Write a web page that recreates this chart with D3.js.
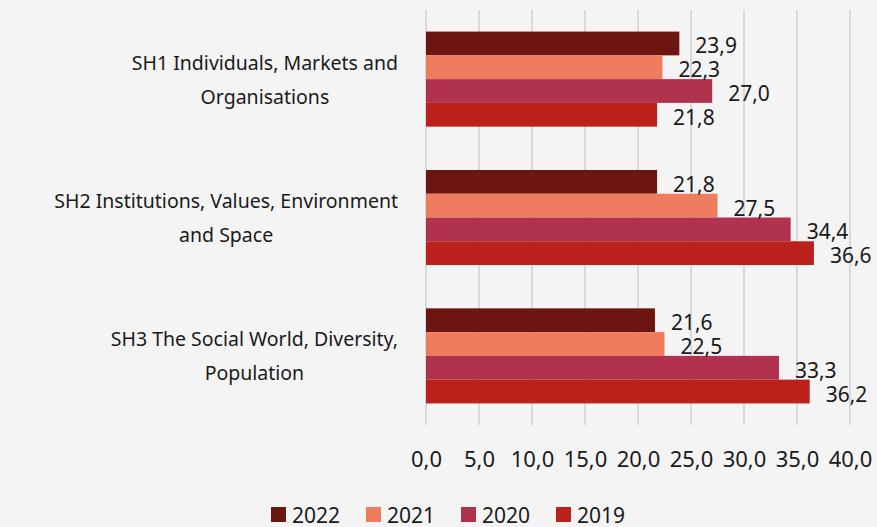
<!DOCTYPE html>
<html><head><meta charset="utf-8">
<script src="https://cdn.jsdelivr.net/npm/d3@7"></script>
<style>
html,body{margin:0;padding:0;background:#f4f4f4;}
svg{display:block;}
text{font-family:"Noto Sans",sans-serif;fill:#1a1a1a;}
</style></head>
<body><svg id="chart" width="877" height="527"></svg>
<script>
const categories = [
  "SH1 Individuals, Markets and Organisations",
  "SH2 Institutions, Values, Environment and Space",
  "SH3 The Social World, Diversity, Population"
];
const seriesNames = ["2022", "2021", "2020", "2019"];
const values2022 = [23.9, 21.8, 21.6];
const values2021 = [22.3, 27.5, 22.5];
const values2020 = [27.0, 34.4, 33.3];
const values2019 = [21.8, 36.6, 36.2];
const xTicks = [0, 5, 10, 15, 20, 25, 30, 35, 40];
const colors = ["#6d1611", "#ef7c5e", "#b1324c", "#bb221c"];

const seriesValues = [values2022, values2021, values2020, values2019];
const data = categories.map((c, i) => ({
  cat: c,
  vals: seriesNames.map((s, j) => ({ key: s, value: seriesValues[j][i] }))
}));

const svg = d3.select("#chart");
svg.append("rect").attr("width", 877).attr("height", 527).attr("fill", "#f4f4f4");

const x = d3.scaleLinear().domain([0, 40]).range([426, 850]);
const y0 = d3.scaleBand().domain(categories).range([10, 425]).paddingInner(0.313).paddingOuter(0.156);
const y1 = d3.scaleBand().domain(seriesNames).range([0, y0.bandwidth()]);
const color = d3.scaleOrdinal().domain(seriesNames).range(colors);

// gridlines
svg.append("g").selectAll("line").data(xTicks).join("line")
  .attr("x1", d => x(d)).attr("x2", d => x(d))
  .attr("y1", 10).attr("y2", 425)
  .attr("stroke", "#d9d9d9").attr("stroke-width", 2);

// x axis labels
const xAxis = d3.axisBottom(x).tickValues(xTicks).tickSize(0)
  .tickFormat(d => d3.format(".1f")(d).replace(".", ","));
const gx = svg.append("g").attr("transform", "translate(0,448)").call(xAxis);
gx.select(".domain").remove();
gx.selectAll("text").attr("font-size", 22).attr("font-family", "Noto Sans").attr("fill", "#1a1a1a");

// bars
const groups = svg.append("g").selectAll("g").data(data).join("g")
  .attr("transform", d => `translate(0,${y0(d.cat)})`);
groups.selectAll("rect").data(d => d.vals).join("rect")
  .attr("x", x(0)).attr("y", d => y1(d.key))
  .attr("width", d => x(d.value) - x(0)).attr("height", y1.bandwidth())
  .attr("fill", d => color(d.key));
groups.selectAll("text").data(d => d.vals).join("text")
  .attr("x", d => x(d.value) + 16)
  .attr("y", d => y1(d.key) + y1.bandwidth() / 2 + 2)
  .attr("dominant-baseline", "central")
  .attr("font-size", 21)
  .text(d => d3.format(".1f")(d.value).replace(".", ","));

// category labels (wrapped)
const fs = 19.5;
const maxW = 378;
const labelRight = 398;
categories.forEach(cat => {
  const cy = y0(cat) + y0.bandwidth() / 2;
  const g = svg.append("g");
  const words = cat.split(" ");
  const lines = [];
  let line = [];
  const tmp = g.append("text").attr("font-size", fs);
  words.forEach(w => {
    line.push(w);
    tmp.text(line.join(" "));
    if (tmp.node().getComputedTextLength() > maxW && line.length > 1) {
      line.pop();
      lines.push(line.join(" "));
      line = [w];
    }
  });
  lines.push(line.join(" "));
  tmp.remove();
  const widths = lines.map(l => {
    const t = g.append("text").attr("font-size", fs).text(l);
    const w = t.node().getComputedTextLength();
    t.remove();
    return w;
  });
  const cx = labelRight - d3.max(widths) / 2;
  const lh = 34;
  lines.forEach((l, i) => {
    g.append("text").attr("font-size", fs)
      .attr("x", cx).attr("text-anchor", "middle")
      .attr("y", cy + (i - (lines.length - 1) / 2) * lh)
      .attr("dominant-baseline", "central")
      .text(l);
  });
});

// legend
const legend = svg.append("g").selectAll("g").data(seriesNames).join("g")
  .attr("transform", (d, i) => `translate(${271 + i * 95},507)`);
legend.append("rect").attr("width", 15).attr("height", 15).attr("fill", d => color(d));
legend.append("text").attr("x", 21).attr("y", 7.5).attr("dominant-baseline", "central")
  .attr("font-size", 21).text(d => d);
</script>
</body></html>
